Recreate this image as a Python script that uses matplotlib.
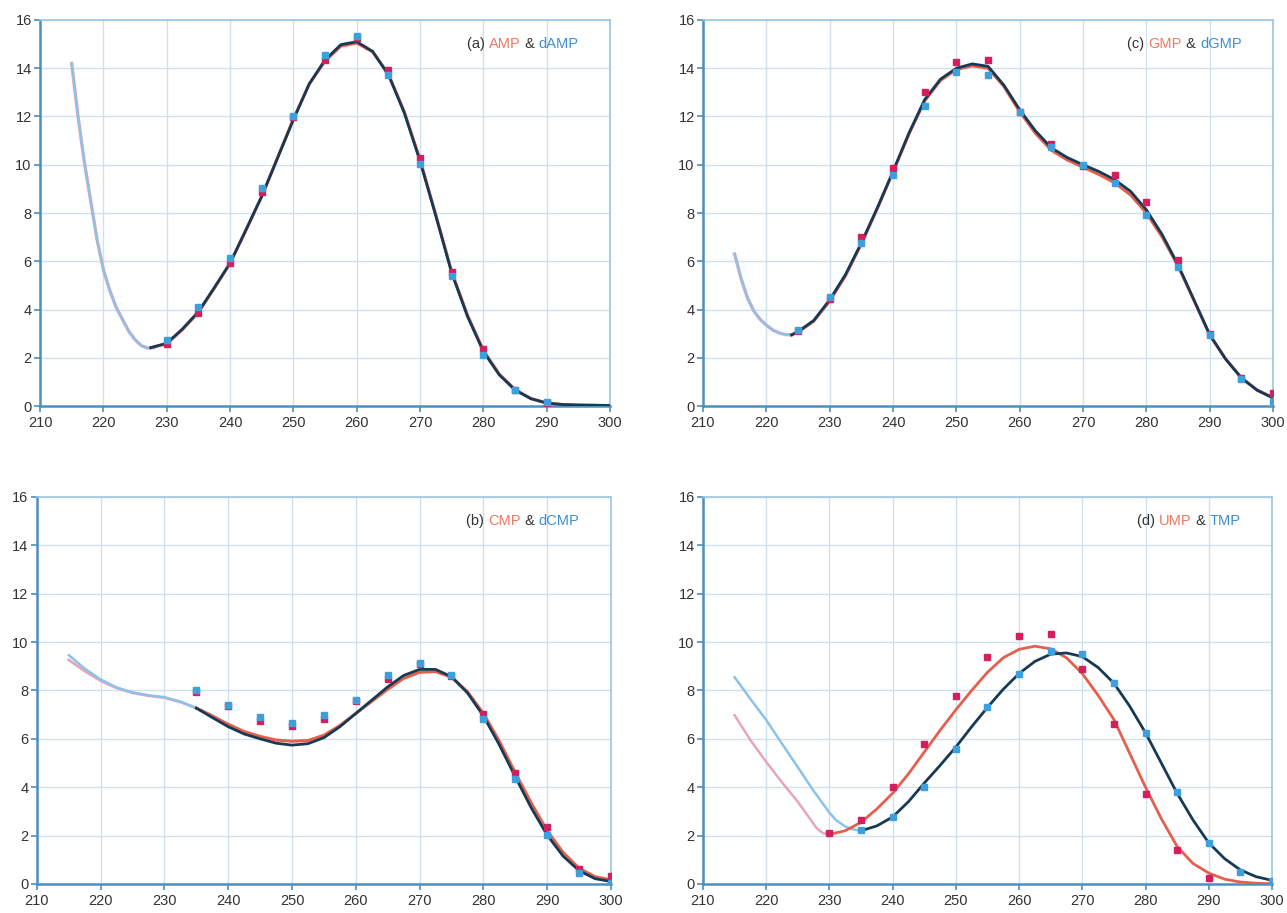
import matplotlib.pyplot as plt
from matplotlib.offsetbox import TextArea, HPacker, AnchoredOffsetbox

# ---- panel (a) AMP & dAMP ----
a_light_x = [215, 216, 217, 218, 219, 220, 221, 222, 223, 224, 225, 226, 227, 228]
a_light_y = [14.2, 12.0, 10.1, 8.5, 6.9, 5.65, 4.8, 4.1, 3.6, 3.1, 2.75, 2.5, 2.4, 2.42]
a_fit_x = [227.5, 230, 232.5, 235, 237.5, 240, 242.5, 245, 247.5, 250, 252.5, 255, 257.5, 260,
           262.5, 265, 267.5, 270, 272.5, 275, 277.5, 280, 282.5, 285, 287.5, 290, 292.5, 295,
           297.5, 300]
a_fit_red = [2.42, 2.58, 3.17, 3.88, 4.88, 5.92, 7.28, 8.7, 10.3, 11.9, 13.35, 14.3, 14.92, 15.05,
             14.68, 13.75, 12.2, 10.2, 7.9, 5.55, 3.75, 2.3, 1.32, 0.68, 0.31, 0.13, 0.06, 0.04,
             0.03, 0.02]
a_fit_dark = [2.42, 2.6, 3.2, 3.91, 4.9, 5.92, 7.3, 8.69, 10.28, 11.87, 13.35, 14.35, 14.98, 15.1,
              14.7, 13.73, 12.15, 10.14, 7.86, 5.5, 3.7, 2.25, 1.29, 0.66, 0.3, 0.12, 0.06, 0.04,
              0.03, 0.02]
a_pts_x = [230, 235, 240, 245, 250, 255, 260, 265, 270, 275, 280, 285, 290]
a_pts_red = [2.55, 3.85, 5.92, 8.85, 11.99, 14.36, 15.25, 13.92, 10.28, 5.57, 2.36, 0.65, 0.12]
a_pts_blue = [2.74, 4.12, 6.13, 9.03, 12.0, 14.56, 15.33, 13.73, 10.04, 5.37, 2.12, 0.66, 0.18]

# ---- panel (b) CMP & dCMP ----
b_light_x = [215, 217.5, 220, 222.5, 225, 227.5, 230, 232.5, 235]
b_light_red = [9.26, 8.8, 8.4, 8.1, 7.9, 7.78, 7.7, 7.52, 7.27]
b_light_blue = [9.46, 8.9, 8.45, 8.12, 7.92, 7.8, 7.72, 7.54, 7.27]
b_fit_x = [235, 237.5, 240, 242.5, 245, 247.5, 250, 252.5, 255, 257.5, 260, 262.5, 265, 267.5,
           270, 272.5, 275, 277.5, 280, 282.5, 285, 287.5, 290, 292.5, 295, 297.5, 300]
b_fit_red = [7.27, 6.95, 6.6, 6.3, 6.1, 5.95, 5.9, 5.93, 6.15, 6.55, 7.05, 7.55, 8.05, 8.5,
             8.75, 8.78, 8.55, 7.95, 7.05, 5.9, 4.6, 3.35, 2.2, 1.3, 0.65, 0.3, 0.17]
b_fit_dark = [7.27, 6.88, 6.5, 6.2, 6.0, 5.82, 5.74, 5.8, 6.05, 6.5, 7.05, 7.6, 8.15, 8.62,
              8.87, 8.87, 8.57, 7.9, 6.95, 5.75, 4.43, 3.15, 2.02, 1.15, 0.55, 0.22, 0.1]
b_pts_x = [235, 240, 245, 250, 255, 260, 265, 270, 275, 280, 285, 290, 295, 300]
b_pts_red = [7.95, 7.35, 6.73, 6.53, 6.8, 7.55, 8.47, 9.08, 8.6, 7.02, 4.6, 2.37, 0.6, 0.33]
b_pts_blue = [8.0, 7.38, 6.9, 6.65, 6.98, 7.6, 8.64, 9.12, 8.64, 6.84, 4.36, 2.02, 0.44, 0.03]

# ---- panel (c) GMP & dGMP ----
c_light_x = [215, 216, 217, 218, 219, 220, 221, 222, 223, 224]
c_light_y = [6.3, 5.3, 4.5, 3.95, 3.6, 3.35, 3.15, 3.03, 2.96, 2.95]
c_fit_x = [224, 225, 227.5, 230, 232.5, 235, 237.5, 240, 242.5, 245, 247.5, 250, 252.5, 255,
           257.5, 260, 262.5, 265, 267.5, 270, 272.5, 275, 277.5, 280, 282.5, 285, 287.5, 290,
           292.5, 295, 297.5, 300]
c_fit_red = [2.95, 3.06, 3.52, 4.35, 5.4, 6.72, 8.17, 9.7, 11.27, 12.65, 13.5, 13.95, 14.1, 14.0,
             13.25, 12.2, 11.3, 10.6, 10.2, 9.9, 9.6, 9.25, 8.75, 8.0, 7.0, 5.8, 4.38, 2.95,
             1.95, 1.17, 0.66, 0.35]
c_fit_dark = [2.95, 3.08, 3.55, 4.4, 5.45, 6.76, 8.2, 9.72, 11.3, 12.7, 13.55, 14.0, 14.18, 14.08,
              13.3, 12.28, 11.4, 10.7, 10.3, 10.0, 9.72, 9.38, 8.9, 8.13, 7.1, 5.85, 4.4, 2.95,
              1.95, 1.16, 0.65, 0.33]
c_pts_x = [225, 230, 235, 240, 245, 250, 255, 260, 265, 270, 275, 280, 285, 290, 295, 300]
c_pts_red = [3.1, 4.45, 7.0, 9.86, 13.0, 14.25, 14.33, 12.2, 10.87, 9.95, 9.56, 8.44, 6.06, 3.0,
             1.15, 0.54]
c_pts_blue = [3.15, 4.5, 6.74, 9.58, 12.45, 13.83, 13.73, 12.2, 10.75, 9.97, 9.25, 7.92, 5.78,
              2.95, 1.12, 0.2]

# ---- panel (d) UMP & TMP ----
d_light_red_x = [215, 217.5, 220, 222.5, 225, 226.5, 228, 229, 230]
d_light_red = [6.98, 5.95, 5.05, 4.2, 3.4, 2.85, 2.3, 2.1, 2.05]
d_light_blue_x = [215, 217.5, 220, 222.5, 225, 227.5, 230, 231, 232.5, 233.5, 235]
d_light_blue = [8.55, 7.65, 6.78, 5.8, 4.83, 3.85, 2.95, 2.65, 2.38, 2.27, 2.2]
d_red_x = [230, 232.5, 235, 237.5, 240, 242.5, 245, 247.5, 250, 252.5, 255, 257.5, 260, 262.5,
           265, 267.5, 270, 272.5, 275, 277.5, 280, 282.5, 285, 287.5, 290, 292.5, 295, 297.5,
           300]
d_red_fit = [2.05, 2.2, 2.55, 3.1, 3.75, 4.55, 5.45, 6.35, 7.2, 8.0, 8.75, 9.35, 9.7, 9.83,
             9.72, 9.35, 8.7, 7.8, 6.8, 5.4, 4.0, 2.7, 1.55, 0.85, 0.45, 0.2, 0.08, 0.03, 0.01]
d_blue_x = [235, 237.5, 240, 242.5, 245, 247.5, 250, 252.5, 255, 257.5, 260, 262.5, 265, 267.5,
            270, 272.5, 275, 277.5, 280, 282.5, 285, 287.5, 290, 292.5, 295, 297.5, 300]
d_blue_fit = [2.2, 2.4, 2.77, 3.4, 4.17, 4.9, 5.66, 6.5, 7.3, 8.05, 8.7, 9.2, 9.5, 9.55,
              9.4, 8.95, 8.3, 7.35, 6.25, 5.0, 3.75, 2.65, 1.7, 1.05, 0.58, 0.3, 0.15]
d_pts_red_x = [230, 235, 240, 245, 250, 255, 260, 265, 270, 275, 280, 285, 290]
d_pts_red = [2.1, 2.65, 4.0, 5.8, 7.77, 9.4, 10.25, 10.33, 8.9, 6.6, 3.7, 1.4, 0.25]
d_pts_blue_x = [235, 240, 245, 250, 255, 260, 265, 270, 275, 280, 285, 290, 295, 300]
d_pts_blue = [2.25, 2.75, 4.0, 5.6, 7.3, 8.7, 9.63, 9.5, 8.3, 6.25, 3.8, 1.7, 0.5, 0.12]

x_ticks = [210, 220, 230, 240, 250, 260, 270, 280, 290, 300]
y_ticks = [0, 2, 4, 6, 8, 10, 12, 14, 16]

RED_FIT = '#e4604e'
DARK_FIT = '#163a55'
RED_PT = '#d41f5e'
BLUE_PT = '#3d9fdb'
PINK_LIGHT = '#e6a6bc'
BLUE_LIGHT = '#8cc2ea'
TXT = '#333333'

plt.rcParams['font.family'] = ['Liberation Sans', 'DejaVu Sans']

fig = plt.figure(figsize=(12.87, 9.13), dpi=100)
ax_a = fig.add_axes([0.0311, 0.5553, 0.4430, 0.4228])
ax_c = fig.add_axes([0.5462, 0.5553, 0.4430, 0.4228])
ax_b = fig.add_axes([0.0287, 0.0318, 0.4460, 0.4239])
ax_d = fig.add_axes([0.5462, 0.0318, 0.4421, 0.4239])


def style(ax):
    ax.set_xlim(210, 300)
    ax.set_ylim(0, 16)
    ax.set_xticks(x_ticks)
    ax.set_yticks(y_ticks)
    ax.grid(True, color='#cfe1ee', lw=1.0)
    ax.set_axisbelow(True)
    for side in ['left', 'bottom']:
        ax.spines[side].set_color('#4d8fbd')
        ax.spines[side].set_linewidth(1.8)
    for side in ['top', 'right']:
        ax.spines[side].set_color('#9cc6e2')
        ax.spines[side].set_linewidth(1.2)
    ax.tick_params(axis='both', colors='#4d8fbd', labelcolor=TXT, labelsize=10.5,
                   length=4, width=1.2, pad=3)
    ax.tick_params(axis='y', pad=2)


def label(ax, name1, name2, tag):
    parts = [TextArea(tag + ' ', textprops=dict(color=TXT, size=10.5)),
             TextArea(name1, textprops=dict(color='#ec7a62', size=10.5)),
             TextArea(' & ', textprops=dict(color=TXT, size=10.5)),
             TextArea(name2, textprops=dict(color='#3f8fd0', size=10.5))]
    box = HPacker(children=parts, align='baseline', pad=0, sep=0)
    anc = AnchoredOffsetbox(loc='upper right', child=box, pad=0, frameon=False,
                            bbox_to_anchor=(0.945, 0.955), bbox_transform=ax.transAxes,
                            borderpad=0)
    ax.add_artist(anc)


def points(ax, x1, y1, x2, y2):
    ax.plot(x1, y1, ls='none', marker='s', ms=5, color=RED_PT, mec=RED_PT, zorder=5)
    ax.plot(x2, y2, ls='none', marker='s', ms=5, color=BLUE_PT, mec=BLUE_PT, zorder=6)


# (a)
style(ax_a)
ax_a.plot(a_light_x, a_light_y, color=PINK_LIGHT, lw=2.4, zorder=2)
ax_a.plot(a_light_x, a_light_y, color=BLUE_LIGHT, lw=1.6, zorder=2)
ax_a.plot(a_fit_x, a_fit_red, color=RED_FIT, lw=2.2, zorder=3)
ax_a.plot(a_fit_x, a_fit_dark, color=DARK_FIT, lw=2.0, zorder=4)
points(ax_a, a_pts_x, a_pts_red, a_pts_x, a_pts_blue)
label(ax_a, 'AMP', 'dAMP', '(a)')

# (c)
style(ax_c)
ax_c.plot(c_light_x, c_light_y, color=PINK_LIGHT, lw=2.4, zorder=2)
ax_c.plot(c_light_x, c_light_y, color=BLUE_LIGHT, lw=1.6, zorder=2)
ax_c.plot(c_fit_x, c_fit_red, color=RED_FIT, lw=2.2, zorder=3)
ax_c.plot(c_fit_x, c_fit_dark, color=DARK_FIT, lw=2.0, zorder=4)
points(ax_c, c_pts_x, c_pts_red, c_pts_x, c_pts_blue)
label(ax_c, 'GMP', 'dGMP', '(c)')

# (b)
style(ax_b)
ax_b.plot(b_light_x, b_light_red, color=PINK_LIGHT, lw=2.0, zorder=2)
ax_b.plot(b_light_x, b_light_blue, color=BLUE_LIGHT, lw=1.8, zorder=2)
ax_b.plot(b_fit_x, b_fit_red, color=RED_FIT, lw=2.2, zorder=3)
ax_b.plot(b_fit_x, b_fit_dark, color=DARK_FIT, lw=2.0, zorder=4)
points(ax_b, b_pts_x, b_pts_red, b_pts_x, b_pts_blue)
label(ax_b, 'CMP', 'dCMP', '(b)')

# (d)
style(ax_d)
ax_d.plot(d_light_red_x, d_light_red, color=PINK_LIGHT, lw=1.8, zorder=2)
ax_d.plot(d_light_blue_x, d_light_blue, color=BLUE_LIGHT, lw=1.8, zorder=2)
ax_d.plot(d_red_x, d_red_fit, color=RED_FIT, lw=2.0, zorder=3)
ax_d.plot(d_blue_x, d_blue_fit, color=DARK_FIT, lw=2.0, zorder=4)
points(ax_d, d_pts_red_x, d_pts_red, d_pts_blue_x, d_pts_blue)
label(ax_d, 'UMP', 'TMP', '(d)')

fig.savefig('out.png', dpi=100, facecolor='white')
